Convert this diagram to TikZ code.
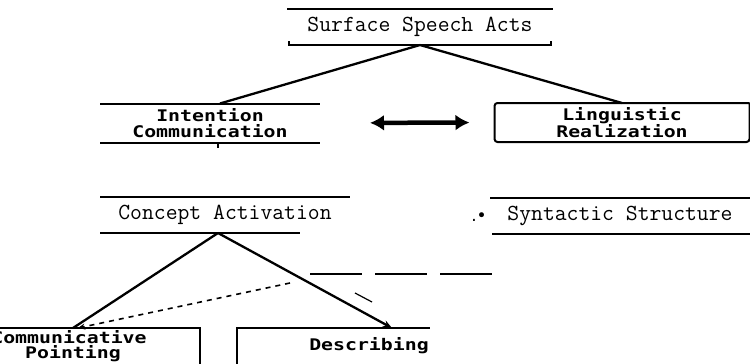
\documentclass[tikz,border=0pt]{standalone}
\usepackage{fontspec}
\newfontfamily\labelfont[FakeStretch=1.24, UprightFont=*, BoldFont=* Bold]{DejaVu Sans Mono}
\newfontfamily\markfont{DejaVu Sans}
\usetikzlibrary{calc}
\usetikzlibrary{arrows.meta}
\newcommand{\heightlevel}{36pt}
\newcommand{\heightunit}{39pt}
\tikzset{
    common/.style={inner sep=0pt, outer sep=0pt},
    level/.style={common, minimum height=\heightlevel, font=\fontsize{23}{23}\selectfont\ttfamily},
    unit/.style={common, minimum height=\heightunit, align=center, font=\fontsize{16}{15.5}\selectfont\labelfont\bfseries},
    rule/.style={line width=2pt},
    link/.style={line width=2.3pt},
    twoway/.style={line width=4.5pt, {Latex[length=14pt,width=16pt]}-{Latex[length=14pt,width=16pt]}},
    hint/.style={line width=1.6pt, dash pattern=on 5pt off 5pt, -{Stealth[length=7pt,width=6pt]}}
}
\begin{document}
\begin{tikzpicture}[x=1pt, y=-1pt]
    \useasboundingbox (0,0) rectangle (750,364);

    \node[level, minimum width=262pt] (acts) at (420,27) {Surface Speech Acts};
    \node[unit, minimum width=220pt] (intent) at (210,123) {Intention\\Communication};
    \node[unit, minimum width=255pt] (real) at (622,122.5) {Linguistic\\Realization};
    \node[level, minimum width=250pt] (concept) at (225,215) {Concept Activation};
    \node[level, minimum width=260pt] (syntax) at (620,215.5) {Syntactic Structure};
    \node[common, font=\fontsize{17}{17}\selectfont\markfont] (mark) at (479,217) {.•};
    \node[unit, minimum width=254pt, minimum height=36pt] (point) at (73,346) {\hspace*{-8pt}Communicative\\Pointing};
    \node[unit, minimum width=264pt, minimum height=36pt] (describe) at (369,346) {Describing};

    % brackets
    \draw[rule] ([xshift=-2pt]acts.north west) -- ([xshift=2pt]acts.north east);
    \draw[rule] ([yshift=4pt]acts.south west) -- (acts.south west) -- (acts.south east) -- ([yshift=4pt]acts.south east);
    \draw[rule] (intent.north west) -- (intent.north east);
    \draw[rule] (intent.south west) -- (intent.south east);
    \draw[rule] ([xshift=8pt]intent.south) -- ++(0,5);
    \draw[rule, rounded corners=3pt] (real.north east) -- (real.north west) -- (real.south west) -- (real.south east) -- (real.north east);
    \draw[rule] (concept.north west) -- (concept.north east);
    \draw[rule] (concept.south west) -- ([xshift=-50pt]concept.south east);
    \draw[rule] (syntax.north west) -- (syntax.north east);
    \draw[rule] ([xshift=2pt]syntax.south west) -- (syntax.south east);
    \draw[rule] (point.north west) -- (point.north east) -- (point.south east);
    \draw[rule] (describe.south west) -- (describe.north west) -- ([xshift=61pt]describe.north);

    \draw[link] (acts.south) -- ([xshift=10pt]intent.north);
    \draw[link] (acts.south) -- (real.north);
    \draw[twoway, shorten <=50pt, shorten >=25pt] (intent.east) -- (real.west);
    \draw[link] ([xshift=-7pt]concept.south) -- (point.north);
    \draw[link, -{Stealth[length=9pt,width=7pt]}] ([xshift=-7pt]concept.south) -- ([xshift=23pt]describe.north);

    \coordinate (cue) at (290,283);
    \draw[hint] (cue) -- ([xshift=5pt]point.north);

    \coordinate (gapL) at (310,274);
    \coordinate (gapR) at (493,274);
    \draw[rule, dash pattern=on 52pt off 13pt] (gapL) -- (gapR);
    \coordinate (nickA) at (355,293);
    \coordinate (nickB) at (372,302);
    \draw[line width=1.2pt] (nickA) -- (nickB);
\end{tikzpicture}
\end{document}
